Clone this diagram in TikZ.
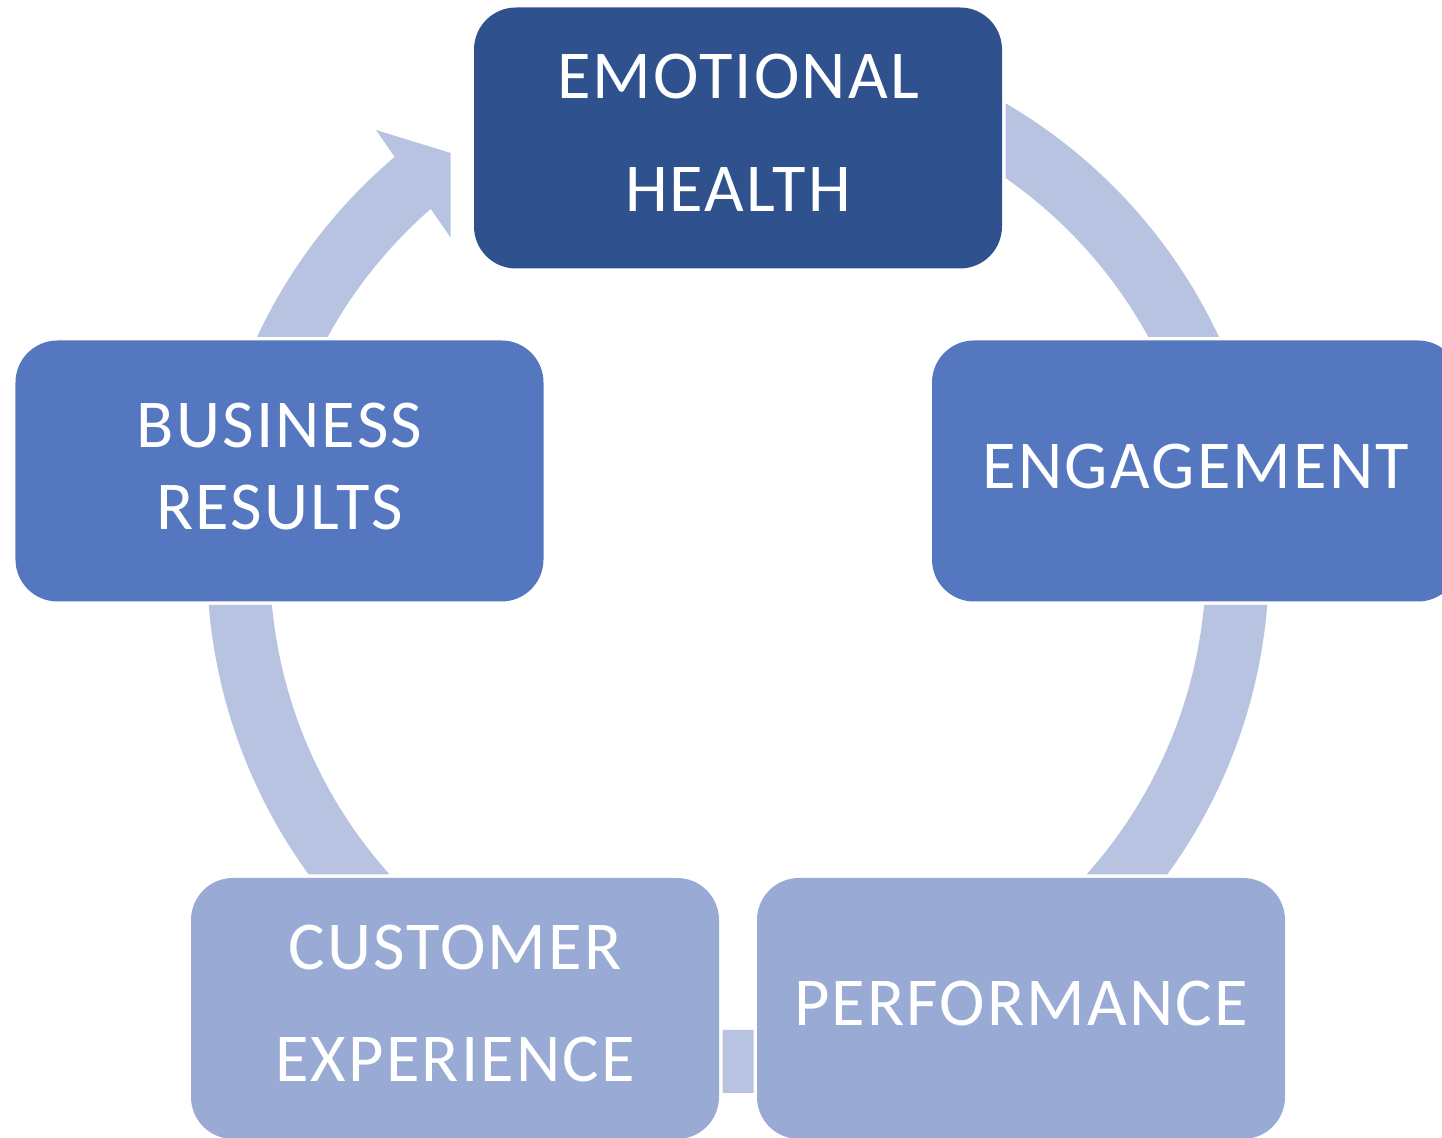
\documentclass[tikz,border=0pt]{standalone}
\usepackage{fontspec}
\setmainfont{Carlito}[LetterSpace=3.2]
\usetikzlibrary{backgrounds}

\definecolor{darkblue}{HTML}{2F528F}
\definecolor{midblue}{HTML}{5577C0}
\definecolor{paleblue}{HTML}{99AAD5}
\definecolor{ringblue}{HTML}{B7C3E0}

\begin{document}
\begin{tikzpicture}[
    block/.style={rectangle, fill=midblue, text=white, align=center, rounded corners=0.42cm, minimum width=5.28cm, minimum height=2.61cm, inner sep=0pt, outer sep=0.35mm, text depth=1mm, font=\fontsize{19.5}{32}\selectfont},
    link/.style={draw=ringblue, line width=0.63cm}]

    \useasboundingbox (0,0) rectangle (14.42,11.38);

    % centre of the cycle
    \coordinate (hub) at (7.38,5.76);

    \node [block, fill=darkblue] (emotional) at (7.38,10.00) {EMOTIONAL\\HEALTH};
    \node [block] (engagement) at (11.96,6.67) {ENGAGEMENT};
    \node [block, fill=paleblue] (performance) at (10.21,1.295) {PERFORMANCE};
    \node [block, fill=paleblue] (customer) at (4.55,1.295) {CUSTOMER\\EXPERIENCE};
    \node [block, font=\fontsize{19.5}{23.3}\selectfont] (business) at (2.795,6.67) {BUSINESS\\RESULTS};

    \begin{pgfonlayer}{background}
    \begin{scope}[even odd rule]
        % keep the ring out of the boxes
        \clip (-1,-1) rectangle (16,13)
            (emotional.south west) rectangle (emotional.north east)
            (engagement.south west) rectangle (engagement.north east)
            (performance.south west) rectangle (performance.north east)
            (customer.south west) rectangle (customer.north east)
            (business.south west) rectangle (business.north east);

        \draw [link] (hub) ++(70:4.995) arc [start angle=70, end angle=15, radius=4.995];   % emotional -> engagement
        \draw [link] (hub) ++(0:4.995) arc [start angle=0, end angle=-60, radius=4.995];    % engagement -> performance
        \draw [link] (hub) ++(-80:4.995) arc [start angle=-80, end angle=-100, radius=4.995]; % performance -> customer
        \draw [link] (hub) ++(-120:4.995) arc [start angle=-120, end angle=-180, radius=4.995]; % customer -> business

        % business -> emotional, with the block head
        \begin{scope}
            \clip (-1,-1) rectangle ([xshift=-2mm]emotional.north west);
            \draw [link] (hub) ++(180:4.995) arc [start angle=180, end angle=130, radius=4.995];
            \fill [ringblue] (3.76,10.08) -- (4.80,9.76) -- (4.62,8.84) -- cycle;
        \end{scope}
    \end{scope}
    \end{pgfonlayer}
\end{tikzpicture}
\end{document}
